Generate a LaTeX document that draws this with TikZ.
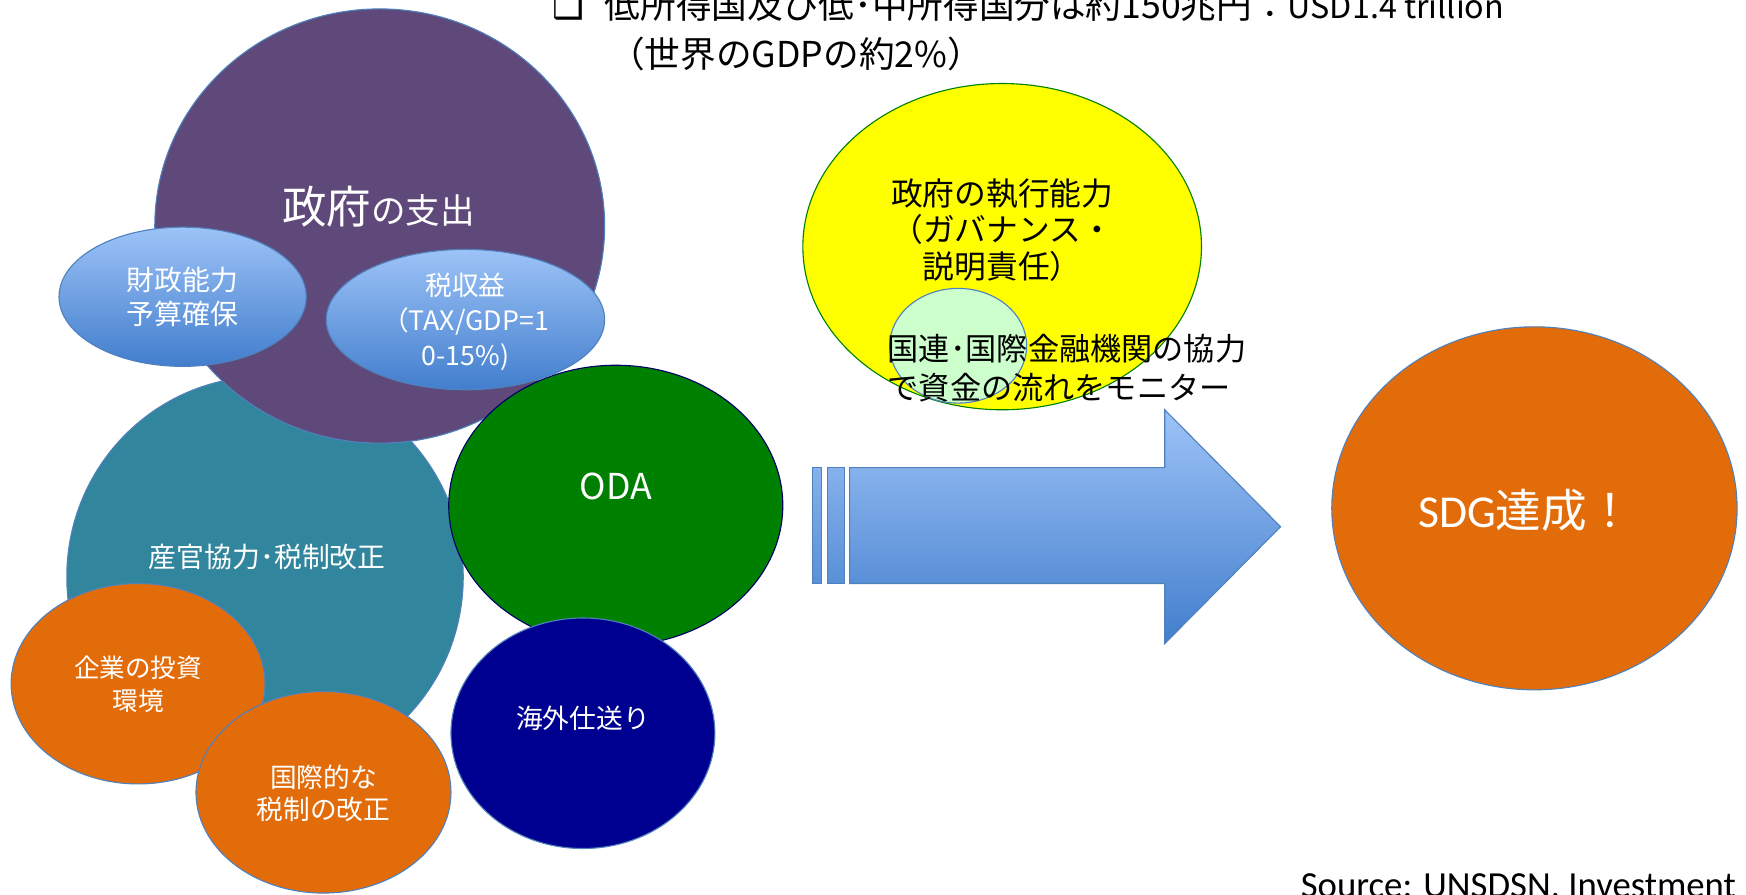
\documentclass[tikz,border=0pt]{standalone}
\usepackage{fontspec}
\setmainfont{Noto Sans CJK JP}
\newfontfamily\calib{Carlito}
\newfontfamily\dejavu{DejaVu Sans}
\usetikzlibrary{shapes.geometric}

\definecolor{govpurple}{RGB}{95,73,122}
\definecolor{tealc}{RGB}{49,133,156}
\definecolor{orangec}{RGB}{227,108,10}
\definecolor{navyc}{RGB}{0,0,144}
\definecolor{odagreen}{RGB}{0,128,0}
\definecolor{edgeblue}{RGB}{79,129,189}
\definecolor{lbtop}{RGB}{157,195,247}
\definecolor{lbbot}{RGB}{66,126,205}
\definecolor{bartop}{RGB}{134,177,236}
\definecolor{barbot}{RGB}{89,144,214}
\definecolor{palegreen}{RGB}{204,255,204}
\definecolor{yellowc}{RGB}{255,255,0}

\begin{document}
\begin{tikzpicture}[x=1pt,y=-1pt,
  blob/.style={ellipse, inner sep=0pt, outer sep=0pt, draw=edgeblue, line width=1pt},
  wtxt/.style={text=white, align=center, inner sep=0pt},
  btxt/.style={text=black, inner sep=0pt}]
\useasboundingbox (0,0) rectangle (1568,803);
\clip (0,0) rectangle (1568,803);

% top text
\node[btxt, anchor=base west, font=\fontsize{32}{32}\dejavu] (bul) at (496,17) {❑};
\node[btxt, anchor=base west, font=\fontsize{32}{32}\selectfont] (l1) at (543,17)
  {低所得国及び低･中所得国分は約150兆円：{\fontsize{29}{29}\selectfont USD1.4 trillion}};
\node[btxt, anchor=base west, font=\fontsize{32}{32}\selectfont] (l2) at (547,61) {（世界のGDPの約2\%）};

% left cluster
\node[blob, fill=tealc, minimum width=356pt, minimum height=360pt] (teal) at (238,518) {};
\node[blob, fill=govpurple, minimum width=404pt, minimum height=390pt] (gov) at (341,203) {};
\node[blob, fill=odagreen, draw=black!60!blue, minimum width=300pt, minimum height=252pt] (oda) at (553,454) {};
\node[blob, top color=lbtop, bottom color=lbbot, minimum width=222pt, minimum height=125pt] (fin) at (164,266.5) {};
\node[blob, top color=lbtop, bottom color=lbbot, minimum width=250pt, minimum height=126pt] (tax) at (418,287) {};
\node[blob, fill=navyc, minimum width=237pt, minimum height=207pt] (remit) at (523.5,658.5) {};
\node[blob, fill=orangec, minimum width=228pt, minimum height=180pt] (inv) at (124,614) {};
\node[blob, fill=orangec, minimum width=229pt, minimum height=181pt] (intl) at (290.5,711.5) {};

\node[wtxt] (govt) at (340,186) {{\fontsize{40}{40}\selectfont 政府}{\fontsize{31}{31}\selectfont の支出}};
\node[wtxt, font=\fontsize{25}{30}\selectfont] (fint) at (164,266.5) {財政能力\\予算確保};
\node[wtxt, font=\fontsize{24}{31.5}\selectfont] (taxt) at (418,289) {税収益\\（TAX/GDP=1\\0-15\%)};
\node[wtxt, font=\fontsize{25}{30}\selectfont] (tealt) at (240,500) {産官協力･税制改正};
\node[wtxt, font=\fontsize{32}{32}\selectfont] (odat) at (553,437) {ODA};
\node[wtxt, font=\fontsize{23}{29}\selectfont] (invt) at (124,614.5) {企業の投資\\環境};
\node[wtxt, font=\fontsize{24}{29}\selectfont] (intlt) at (290.5,712.5) {国際的な\\税制の改正};
\node[wtxt, font=\fontsize{24}{30}\selectfont] (remitt) at (523.5,645) {海外仕送り};

% governance
\node[blob, fill=yellowc, draw=odagreen, minimum width=358pt, minimum height=293pt] (govn) at (900,221.5) {};
\node[blob, fill=palegreen, minimum width=123pt, minimum height=103pt] (un) at (860.5,310.5) {};
\node[btxt, align=center, font=\fontsize{28.5}{33}\selectfont] (govnt) at (900,206.5) {政府の執行能力\\（ガバナンス・\\説明責任）};
\node[btxt, align=left, anchor=west, font=\fontsize{28}{35}\selectfont] (unt) at (797,330.5) {国連･国際金融機関の協力\\で資金の流れをモニター};

% arrow
\shade[top color=bartop, bottom color=barbot, draw=edgeblue, line width=1pt] (730,420) rectangle (738,524);
\shade[top color=bartop, bottom color=barbot, draw=edgeblue, line width=1pt] (743,420) rectangle (758,524);
\shade[top color=lbtop, bottom color=lbbot, draw=edgeblue, line width=1pt]
  (763,420) -- (1046,420) -- (1046,368) -- (1150,473) -- (1046,578) -- (1046,524) -- (763,524) -- cycle;

% goal
\node[blob, fill=orangec, minimum width=364pt, minimum height=326pt] (sdg) at (1378,456.5) {};
\node[wtxt, font=\fontsize{41}{41}\selectfont] (sdgt) at (1370,458) {{\calib SDG}達成！};

\node[btxt, anchor=base west, font=\fontsize{33}{33}\calib] (src) at (1168,806) {Source: UNSDSN, Investment};
\end{tikzpicture}
\end{document}
